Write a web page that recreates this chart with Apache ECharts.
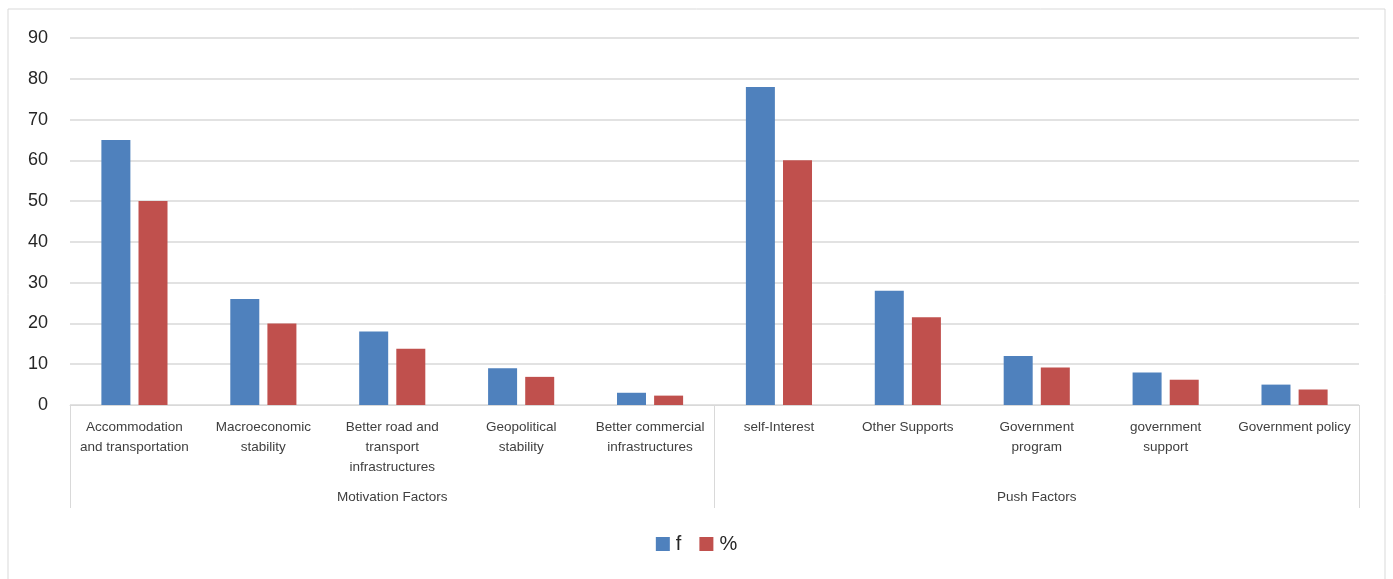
<!DOCTYPE html>
<html>
<head>
<meta charset="utf-8">
<script src="https://cdn.jsdelivr.net/npm/echarts@6/dist/echarts.min.js"></script>
<style>
  html, body { margin: 0; padding: 0; background: #fff; }
  #chart { width: 1393px; height: 579px; }
</style>
</head>
<body>
<div id="chart"></div>
<script>
// Factor frequencies (f) and share (%) — clustered bars, grouped under two headings.
const categories = [
  "Accommodation\nand transportation",
  "Macroeconomic\nstability",
  "Better road and\ntransport\ninfrastructures",
  "Geopolitical\nstability",
  "Better commercial\ninfrastructures",
  "self-Interest",
  "Other Supports",
  "Government\nprogram",
  "government\nsupport",
  "Government policy",
];
const groups = ["Motivation Factors", "Push Factors"];
const freqValues = [65, 26, 18, 9, 3, 78, 28, 12, 8, 5];
const pctValues = [50, 20, 13.8, 6.9, 2.3, 60, 21.5, 9.2, 6.2, 3.8];
const seriesNames = ["f", "%"];
const yTicks = { min: 0, max: 90, step: 10 };

const FONT = "'Liberation Sans', Arial, sans-serif";
const TEXT = "#404040";
const GRID = "#d9d9d9";

const chart = echarts.init(document.getElementById("chart"), null, { renderer: "canvas" });

chart.setOption({
  animation: false,
  textStyle: { fontFamily: FONT },
  grid: { left: 70, right: 34, top: 38, bottom: 174 },
  legend: {
    data: seriesNames,
    bottom: 20,
    left: "center",
    icon: "rect",
    itemWidth: 14,
    itemHeight: 14,
    itemGap: 18,
    textStyle: { color: "#262626", fontSize: 20, fontFamily: FONT, padding: [0, 0, 0, 1] },
  },
  graphic: [
    {
      type: "rect",
      shape: { x: 8, y: 9, width: 1377, height: 575 },
      style: { fill: "none", stroke: GRID, lineWidth: 1 },
      silent: true,
    },
  ],
  xAxis: [
    {
      type: "category",
      data: categories,
      position: "bottom",
      axisLine: { lineStyle: { color: GRID, width: 1 } },
      axisTick: { show: false },
      axisLabel: {
        interval: 0,
        margin: 12,
        color: TEXT,
        fontSize: 13.5,
        lineHeight: 20,
        fontFamily: FONT,
      },
    },
    {
      type: "category",
      data: groups,
      position: "bottom",
      axisLine: { show: false },
      axisTick: { show: true, interval: 0, length: 103, lineStyle: { color: GRID } },
      axisLabel: { margin: 85, color: TEXT, fontSize: 13.5, fontFamily: FONT },
    },
  ],
  yAxis: {
    type: "value",
    min: yTicks.min,
    max: yTicks.max,
    interval: yTicks.step,
    axisLine: { show: false },
    axisTick: { show: false },
    axisLabel: { color: "#262626", fontSize: 18, margin: 22, fontFamily: FONT },
    splitLine: { lineStyle: { color: GRID, width: 1.5 } },
  },
  series: [
    {
      name: seriesNames[0],
      type: "bar",
      data: freqValues,
      barWidth: 29,
      barGap: "28%",
      itemStyle: { color: "#4F81BD" },
    },
    {
      name: seriesNames[1],
      type: "bar",
      data: pctValues,
      barWidth: 29,
      barGap: "28%",
      itemStyle: { color: "#C0504D" },
    },
  ],
});
</script>
</body>
</html>
